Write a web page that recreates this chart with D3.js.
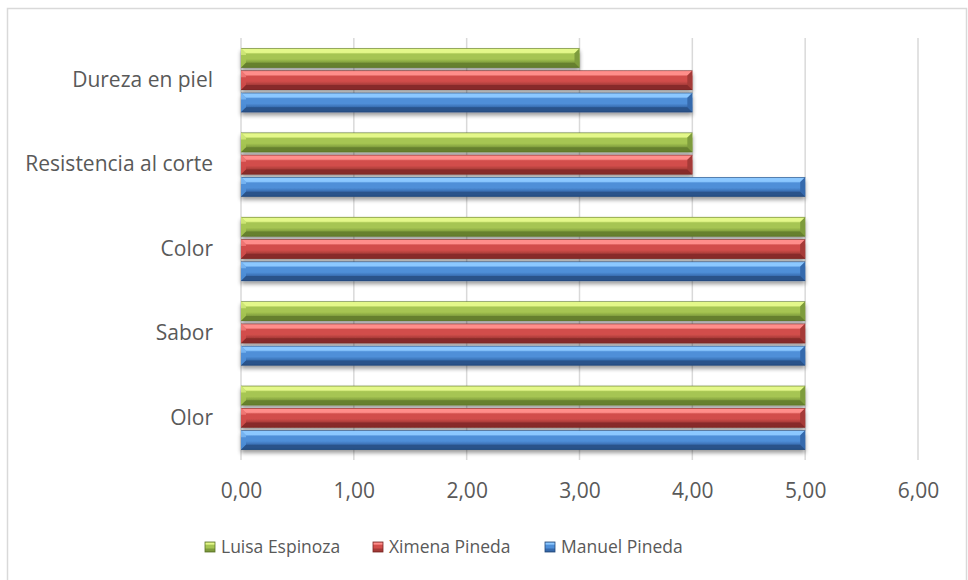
<!DOCTYPE html>
<html><head><meta charset="utf-8">
<script src="https://cdn.jsdelivr.net/npm/d3@7/dist/d3.min.js"></script>
<style>body{margin:0;background:#fff}svg{display:block}</style>
</head><body><svg id="c" width="968" height="580"></svg>
<script>
const categories = ["Dureza en piel","Resistencia al corte","Color","Sabor","Olor"];
const seriesNames = ["Luisa Espinoza","Ximena Pineda","Manuel Pineda"];
const luisa = [3,4,5,5,5];
const ximena = [4,4,5,5,5];
const manuel = [4,5,5,5,5];
const xTicks = [0,1,2,3,4,5,6];
const seriesValues = [luisa, ximena, manuel];
const palette = [
  {light:"#e4f88a", mid:"#a6c552", dark:"#7e9c3c", edge:"#5d7529"},
  {light:"#ff8e8b", mid:"#d24e4b", dark:"#a53a37", edge:"#7a2624"},
  {light:"#8cc8ff", mid:"#4f8fd8", dark:"#366aad", edge:"#23497a"}
];
const svg = d3.select("#c");
const font = "'Open Sans', 'Noto Sans', sans-serif";
const textCol = "#595959";
// frame
svg.append("path").attr("d","M7.5,580 V8.5 H966.5 V580").attr("fill","none").attr("stroke","#d9d9d9").attr("stroke-width",1.5);

const x = d3.scaleLinear().domain([0,6]).range([241,918]);
const y0 = d3.scaleBand().domain(categories).range([38,460]).paddingInner(0.24).paddingOuter(0.12);
const y1 = d3.scaleBand().domain(seriesNames).range([0,y0.bandwidth()]).paddingInner(0.12);

const defs = svg.append("defs");
palette.forEach((p,i)=>{
  const g = defs.append("linearGradient").attr("id","g"+i).attr("x1",0).attr("y1",0).attr("x2",0).attr("y2",1);
  [[0,p.edge],[0.06,p.light],[0.22,p.light],[0.3,p.mid],[0.55,p.mid],[0.75,p.dark],[0.92,p.dark],[1,p.edge]]
    .forEach(s=>g.append("stop").attr("offset",s[0]).attr("stop-color",s[1]));
});
const f = defs.append("filter").attr("id","sh").attr("x","-5%").attr("y","-30%").attr("width","110%").attr("height","180%");
f.append("feGaussianBlur").attr("in","SourceAlpha").attr("stdDeviation",2.2).attr("result","b");
f.append("feOffset").attr("in","b").attr("dy",3).attr("result","o");
f.append("feComponentTransfer").attr("in","o").attr("result","o2").append("feFuncA").attr("type","linear").attr("slope",0.4);
const m = f.append("feMerge"); m.append("feMergeNode").attr("in","o2"); m.append("feMergeNode").attr("in","SourceGraphic");

// gridlines
svg.append("g").selectAll("line").data(xTicks).join("line")
  .attr("x1",d=>x(d)).attr("x2",d=>x(d)).attr("y1",38).attr("y2",460)
  .attr("stroke","#d9d9d9").attr("stroke-width",1.5);

// x axis labels
const xAxis = d3.axisBottom(x).tickValues(xTicks).tickSize(0).tickPadding(0)
  .tickFormat(d=>d3.format(".2f")(d).replace(".",","));
const xg = svg.append("g").attr("transform","translate(0,483)").call(xAxis);
xg.select(".domain").remove();
xg.selectAll("text").attr("font-family",font).attr("font-size",21).attr("fill",textCol).attr("dy","0.7em");

// y axis labels
const yAxis = d3.axisLeft(y0).tickSize(0).tickPadding(0);
const yg = svg.append("g").attr("transform","translate(213,0)").call(yAxis);
yg.select(".domain").remove();
yg.selectAll("text").attr("font-family",font).attr("font-size",21).attr("fill",textCol);

// bars
const bev = 5;
const groups = svg.append("g").selectAll("g").data(categories).join("g")
  .attr("transform",d=>`translate(0,${y0(d)})`);
seriesNames.forEach((s,si)=>{
  groups.append("g").attr("filter","url(#sh)").each(function(c,ci){
    const g = d3.select(this);
    const x0 = x(0), x1 = x(seriesValues[si][ci]);
    const yt = y1(s), h = y1.bandwidth(), yb = yt+h;
    const p = palette[si];
    g.append("rect").attr("x",x0).attr("y",yt).attr("width",x1-x0).attr("height",h).attr("fill",`url(#g${si})`);
    g.append("path").attr("d",`M${x0},${yt}L${x0+bev},${yt+bev}L${x0+bev},${yb-bev}L${x0},${yb}Z`).attr("fill",p.mid).attr("opacity",0.9);
    g.append("path").attr("d",`M${x0},${yt}L${x0+bev},${yt+bev}L${x0+bev},${yt+h*0.35}L${x0},${yt+h*0.35}Z`).attr("fill",p.light).attr("opacity",0.6);
    g.append("path").attr("d",`M${x1},${yt}L${x1-bev},${yt+bev}L${x1-bev},${yb-bev}L${x1},${yb}Z`).attr("fill",p.dark);
    g.append("path").attr("d",`M${x0},${yb}L${x0+bev},${yb-bev}L${x1-bev},${yb-bev}L${x1},${yb}Z`).attr("fill",p.edge).attr("opacity",0.7);
  });
});

// legend
const legendX = [205,373,545];
const lg = svg.append("g").selectAll("g").data(seriesNames).join("g")
  .attr("transform",(d,i)=>`translate(${legendX[i]},547)`);
lg.append("rect").attr("x",0).attr("y",-5).attr("width",10).attr("height",10).attr("fill",(d,i)=>`url(#g${i})`).attr("stroke",(d,i)=>palette[i].edge).attr("stroke-width",0.8);
lg.append("text").attr("x",16).attr("y",0).attr("dy","0.35em").text(d=>d)
  .attr("font-family",font).attr("font-size",17.5).attr("fill",textCol);
</script></body></html>
